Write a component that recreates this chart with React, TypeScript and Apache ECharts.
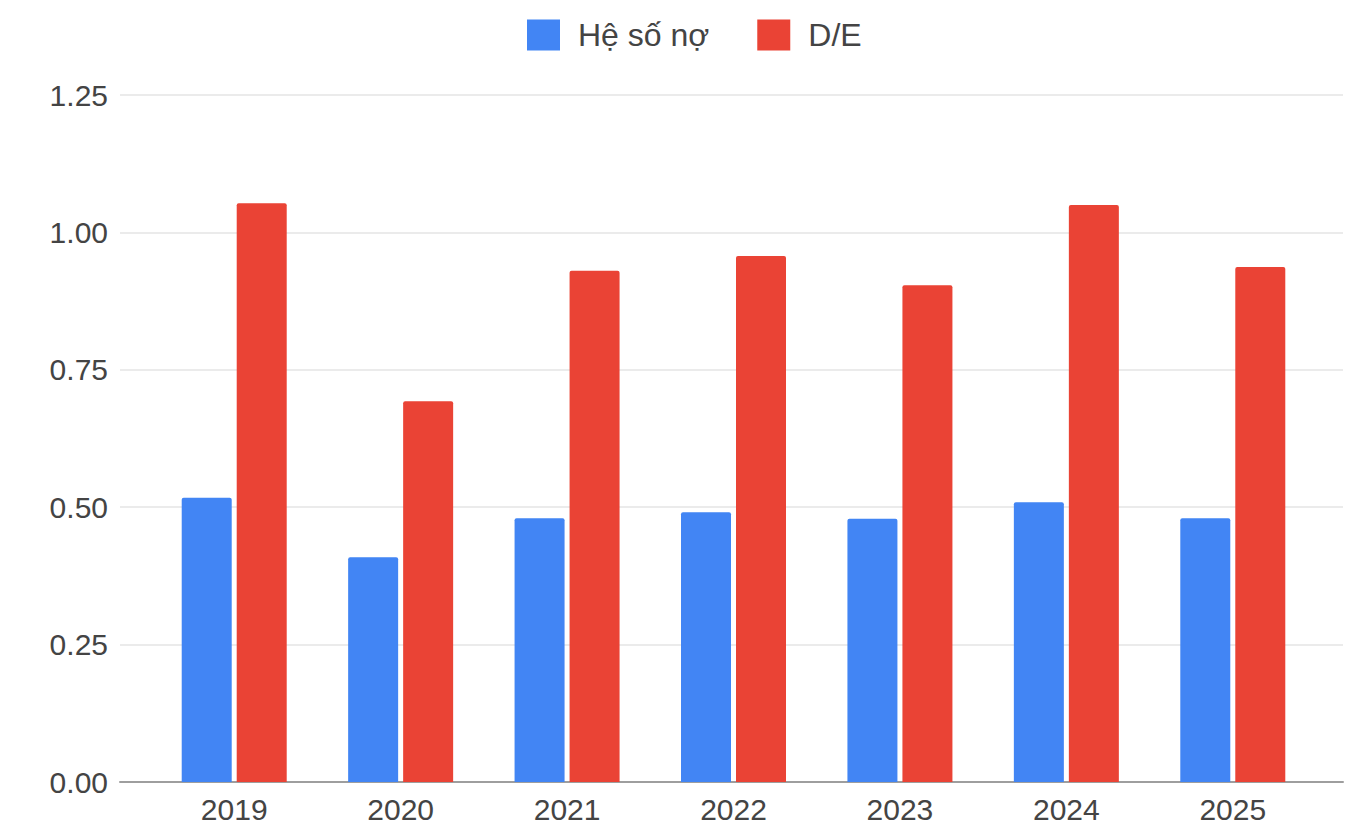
import React, { useEffect, useRef } from "react";
import * as echarts from "echarts";

const years = ["2019", "2020", "2021", "2022", "2023", "2024", "2025"];
const heSoNo = [0.517, 0.409, 0.48, 0.491, 0.479, 0.509, 0.48];
const deRatio = [1.053, 0.693, 0.93, 0.957, 0.904, 1.05, 0.937];
const seriesNames = ["Hệ số nợ", "D/E"];
const yMin = 0;
const yMax = 1.25;
const yStep = 0.25;

const FONT = "'Liberation Sans', Arial, sans-serif";

export default function App() {
  const ref = useRef<HTMLDivElement>(null);
  useEffect(() => {
    if (!ref.current) return;
    const chart = echarts.init(ref.current, undefined, { renderer: "svg" });
    chart.setOption({
      animation: false,
      backgroundColor: "#ffffff",
      textStyle: { fontFamily: FONT },
      legend: {
        data: seriesNames,
        left: 527,
        top: 19,
        padding: 0,
        itemWidth: 33,
        itemHeight: 31,
        itemGap: 48,
        icon: "rect",
        textStyle: { fontSize: 32, color: "#444444", fontFamily: FONT, padding: [0, 0, 0, 13] },
      },
      grid: [
        { left: 120, right: 22, top: 95, bottom: 50 },
        { left: 151, right: 49, top: 95, bottom: 50 },
      ],
      xAxis: [
        {
          type: "value",
          gridIndex: 0,
          min: 0,
          max: 1,
          axisLine: { show: true, lineStyle: { color: "#9e9e9e", width: 2 } },
          axisTick: { show: false },
          axisLabel: { show: false },
          splitLine: { show: false },
        },
        {
          type: "category",
          gridIndex: 1,
          data: years,
          axisLine: { show: false },
          axisTick: { show: false },
          axisLabel: { fontSize: 30, color: "#444444", margin: 12, fontFamily: FONT },
        },
      ],
      yAxis: [
        {
          type: "value",
          gridIndex: 0,
          min: yMin,
          max: yMax,
          interval: yStep,
          axisLine: { show: false },
          axisTick: { show: false },
          axisLabel: {
            fontSize: 30,
            color: "#444444",
            margin: 12,
            fontFamily: FONT,
            formatter: (v: number) => v.toFixed(2),
          },
          splitLine: { show: true, lineStyle: { color: "#ebebeb", width: 2 } },
        },
        {
          type: "value",
          gridIndex: 1,
          min: yMin,
          max: yMax,
          interval: yStep,
          show: false,
          splitLine: { show: false },
        },
      ],
      series: [
        {
          name: seriesNames[0],
          type: "bar",
          xAxisIndex: 1,
          yAxisIndex: 1,
          data: heSoNo,
          barWidth: 50,
          barGap: "10%",
          itemStyle: { color: "#4285f4", borderRadius: [2, 2, 0, 0] },
        },
        {
          name: seriesNames[1],
          type: "bar",
          xAxisIndex: 1,
          yAxisIndex: 1,
          data: deRatio,
          barWidth: 50,
          barGap: "10%",
          itemStyle: { color: "#ea4335", borderRadius: [2, 2, 0, 0] },
        },
      ],
    });
    return () => chart.dispose();
  }, []);
  return (
    <div
      ref={ref}
      style={{ position: "fixed", left: 0, top: 0, width: 1365, height: 832 }}
    />
  );
}
